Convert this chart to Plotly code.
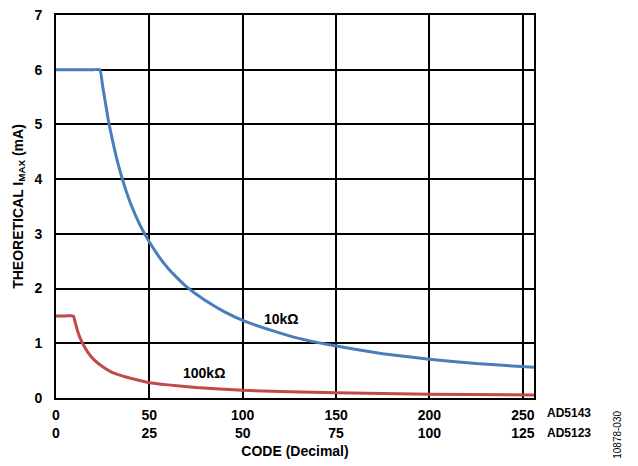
import plotly.graph_objects as go

# Data
code_10k = [0, 10, 20, 23.5, 25, 28, 30, 33, 36, 40, 45, 50, 55, 60, 65, 70, 80, 90, 100, 115, 130, 150, 175, 200, 225, 256]
imax_10k = [6.0, 6.0, 6.0, 6.0, 5.7, 5.08, 4.75, 4.31, 3.95, 3.55, 3.16, 2.85, 2.59, 2.37, 2.19, 2.03, 1.78, 1.58, 1.42, 1.24, 1.09, 0.95, 0.81, 0.71, 0.63, 0.56]
code_100k = [0, 5, 9.3, 10, 11, 12, 13, 15, 17, 20, 25, 30, 35, 40, 50, 60, 75, 100, 150, 200, 256]
imax_100k = [1.5, 1.5, 1.5, 1.42, 1.29, 1.18, 1.09, 0.95, 0.84, 0.71, 0.57, 0.47, 0.41, 0.36, 0.28, 0.24, 0.19, 0.14, 0.095, 0.07, 0.055]
tick_vals = [0, 50, 100, 150, 200, 250]
tick_ad5143 = ["0", "50", "100", "150", "200", "250"]
tick_ad5123 = ["0", "25", "50", "75", "100", "125"]

FONT = "Arial, Liberation Sans, sans-serif"

fig = go.Figure()
fig.add_trace(go.Scatter(x=code_10k, y=imax_10k, mode="lines",
                         line=dict(color="#4a7ebb", width=3, shape="spline", smoothing=0.4)))
fig.add_trace(go.Scatter(x=code_100k, y=imax_100k, mode="lines",
                         line=dict(color="#be4b48", width=3, shape="spline", smoothing=0.4)))

fig.update_layout(
    width=638, height=466,
    margin=dict(l=56, r=104, t=15, b=68, autoexpand=False),
    paper_bgcolor="white", plot_bgcolor="white",
    showlegend=False,
    font=dict(family=FONT, size=14, color="black"),
    xaxis=dict(range=[0, 256], tickvals=tick_vals,
               ticktext=[f"{a}<br>{b}" for a, b in zip(tick_ad5143, tick_ad5123)],
               tickfont=dict(family=FONT, size=14, weight="bold"),
               showgrid=True, gridcolor="black", gridwidth=1.5,
               showline=True, linecolor="black", linewidth=2, mirror=True,
               ticks="", zeroline=False, ticklabelstandoff=3, automargin=False,
               title=dict(text="CODE (Decimal)", font=dict(family=FONT, size=14, weight="bold"), standoff=6)),
    yaxis=dict(range=[0, 7], tickvals=[0, 1, 2, 3, 4, 5, 6, 7],
               tickfont=dict(family=FONT, size=14, weight="bold"),
               showgrid=True, gridcolor="black", gridwidth=1.5,
               showline=True, linecolor="black", linewidth=2, mirror=True,
               ticks="", zeroline=False, ticklabelstandoff=9, automargin=False,
               title=dict(text="THEORETICAL I<sub>MAX</sub> (mA)", font=dict(family=FONT, size=14, weight="bold"), standoff=8)),
)

fig.add_annotation(x=120.5, y=1.45, text="<b>10kΩ</b>", showarrow=False,
                   font=dict(family=FONT, size=14))
fig.add_annotation(x=79, y=0.46, text="<b>100kΩ</b>", showarrow=False,
                   font=dict(family=FONT, size=14))
fig.add_annotation(xref="paper", yref="paper", x=1.0, y=-0.039, xanchor="left", yanchor="middle",
                   xshift=11, text="<b>AD5143</b>", showarrow=False, font=dict(family=FONT, size=12))
fig.add_annotation(xref="paper", yref="paper", x=1.0, y=-0.091, xanchor="left", yanchor="middle",
                   xshift=11, text="<b>AD5123</b>", showarrow=False, font=dict(family=FONT, size=12))
fig.add_annotation(xref="paper", yref="paper", x=1.0, y=-0.096, xanchor="center", yanchor="middle",
                   xshift=84, text="10878-030", textangle=-90, showarrow=False,
                   font=dict(family=FONT, size=10))

fig.write_html("out.html")
